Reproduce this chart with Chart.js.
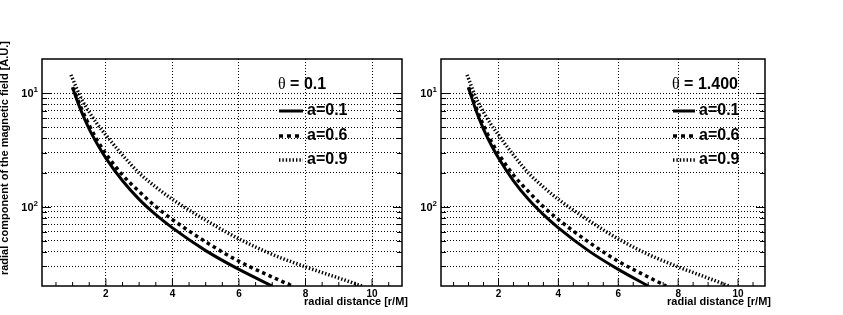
<!DOCTYPE html>
<html>
<head>
<meta charset="utf-8">
<script src="https://cdn.jsdelivr.net/npm/chart.js@4.4.0/dist/chart.umd.min.js"></script>
<style>
  html, body { margin: 0; padding: 0; background: #fff; }
  #wrap { position: relative; width: 843px; height: 315px; }
  canvas { position: absolute; top: 0; }
</style>
</head>
<body>
<div id="wrap">
  <canvas id="panelLeft" width="421" height="315" style="left:0"></canvas>
  <canvas id="panelRight" width="422" height="315" style="left:421px"></canvas>
</div>
<script>
// radial distance [r/M] and field values
const rA01 = [1.0, 1.25, 1.5, 1.75, 2.0, 2.5, 3.0, 3.5, 4.0, 5.0, 6.0, 7.0];
const bA01 = [0.111, 0.0705, 0.0483, 0.0353, 0.0268, 0.0169, 0.0116, 0.0085, 0.0065, 0.0041, 0.0028, 0.002];

const rA06 = [1.0, 1.25, 1.5, 1.75, 2.0, 2.5, 3.0, 3.5, 4.0, 5.0, 6.0, 7.0, 7.6];
const bA06 = [0.113, 0.075, 0.052, 0.038, 0.0292, 0.019, 0.0136, 0.0100, 0.0077, 0.0049, 0.0033, 0.0024, 0.002];

const rA09 = [0.95, 1.25, 1.5, 1.75, 2.0, 2.5, 3.0, 3.5, 4.0, 5.0, 6.0, 7.0, 8.0, 9.0, 9.7];
const bA09 = [0.145, 0.091, 0.068, 0.053, 0.0428, 0.0285, 0.0198, 0.0149, 0.0116, 0.0076, 0.0052, 0.0038, 0.00295, 0.00235, 0.002];

const seriesNames = ['a=0.1', 'a=0.6', 'a=0.9'];
const thetaLabels = ['0.1', '1.400'];

// axes
const xTicks = [2, 4, 6, 8, 10];
const xMinorStep = 0.5;
const yGrid = [0.003, 0.004, 0.005, 0.006, 0.007, 0.008, 0.009,
               0.01, 0.02, 0.03, 0.04, 0.05, 0.06, 0.07, 0.08, 0.09, 0.1];
const yLabelValues = [0.01, 0.1];
const yLabelBase = '10';
const yLabelExps = ['2', '1'];

const xTitle = 'radial distance [r/M]';
const yTitle = 'radial component of the magnetic field [A.U.]';

const toPoints = (xs, ys) => xs.map((x, i) => ({ x: x, y: ys[i] }));

const rootFrame = {
  id: 'rootFrame',
  afterDraw(chart, args, opts) {
    const { ctx, chartArea: a, scales: { x, y } } = chart;
    ctx.save();
    ctx.strokeStyle = '#000';
    ctx.fillStyle = '#000';
    ctx.setLineDash([]);

    // inner tick marks, ROOT style
    ctx.lineWidth = 1;
    ctx.beginPath();
    for (let v = xMinorStep; v < x.max; v += xMinorStep) {
      const px = x.getPixelForValue(v);
      const len = xTicks.includes(v) ? 7 : 4;
      ctx.moveTo(px, a.bottom);
      ctx.lineTo(px, a.bottom - len);
    }
    yGrid.forEach(v => {
      const py = Math.round(y.getPixelForValue(v)) + 0.5;
      const len = yLabelValues.includes(v) ? 9 : 5;
      ctx.moveTo(a.left, py); ctx.lineTo(a.left + len, py);
      ctx.moveTo(a.right, py); ctx.lineTo(a.right - len, py);
    });
    ctx.stroke();

    // frame
    ctx.lineWidth = 1.5;
    ctx.strokeRect(a.left, a.top, a.right - a.left, a.bottom - a.top);

    // y tick labels: 10 with a raised exponent
    ctx.textBaseline = 'middle';
    ctx.textAlign = 'right';
    yLabelValues.forEach((v, i) => {
      const py = y.getPixelForValue(v);
      ctx.font = 'bold 8px "Liberation Sans", Arial, sans-serif';
      ctx.fillText(yLabelExps[i], a.left - 4, py - 3);
      const ew = ctx.measureText(yLabelExps[i]).width;
      ctx.font = 'bold 11px "Liberation Sans", Arial, sans-serif';
      ctx.fillText(yLabelBase, a.left - 4 - ew, py + 1);
    });

    // axis titles
    ctx.font = 'bold 11px "Liberation Sans", Arial, sans-serif';
    ctx.textAlign = 'right';
    ctx.textBaseline = 'middle';
    ctx.fillText(xTitle, a.right + 6, 302);
    if (opts.showYTitle) {
      ctx.save();
      ctx.translate(5, 41);
      ctx.rotate(-Math.PI / 2);
      ctx.textAlign = 'right';
      ctx.fillText(yTitle, 0, 0);
      ctx.restore();
    }

    // legend
    const lx = a.left + opts.legendX;
    ctx.textAlign = 'left';
    ctx.font = '16px "Liberation Serif", serif';
    ctx.fillText('\u03b8', lx - 1, a.top + 26);
    const tw = ctx.measureText('\u03b8').width;
    ctx.font = 'bold 16px "Liberation Sans", Arial, sans-serif';
    ctx.fillText(' = ' + opts.theta, lx - 1 + tw, a.top + 26);

    const rows = [52, 77, 101];
    chart.data.datasets.forEach((ds, i) => {
      const yy = a.top + rows[i];
      ctx.save();
      ctx.lineWidth = ds.borderWidth;
      ctx.setLineDash(opts.sampleDash[i]);
      ctx.beginPath();
      ctx.moveTo(lx, yy);
      ctx.lineTo(lx + opts.sampleLen, yy);
      ctx.stroke();
      ctx.restore();
      ctx.fillText(ds.label, lx + opts.sampleLen + 4, yy);
    });
    ctx.restore();
  }
};

function makePanel(id, theta, yWidth, padRight, legendX, sampleLen, showYTitle) {
  const c = document.getElementById(id).getContext('2d');
  return new Chart(c, {
    type: 'line',
    data: {
      datasets: [
        { label: seriesNames[0], data: toPoints(rA01, bA01), borderColor: '#000',
          borderWidth: 3, borderDash: [] },
        { label: seriesNames[1], data: toPoints(rA06, bA06), borderColor: '#000',
          borderWidth: 3.5, borderDash: [3.5, 3.5] },
        { label: seriesNames[2], data: toPoints(rA09, bA09), borderColor: '#000',
          borderWidth: 3.5, borderDash: [1.4, 2] }
      ]
    },
    options: {
      responsive: false,
      animation: false,
      layout: { padding: { left: 0, right: padRight, top: 59, bottom: 0 } },
      elements: {
        point: { radius: 0 },
        line: { cubicInterpolationMode: 'monotone', fill: false }
      },
      scales: {
        x: {
          type: 'linear',
          min: 0.08,
          max: 10.9,
          afterBuildTicks: s => { s.ticks = xTicks.map(v => ({ value: v })); },
          afterFit: s => { s.height = 29; },
          ticks: {
            color: '#000',
            padding: 2,
            maxRotation: 0,
            font: { family: '"Liberation Sans", Arial, sans-serif', size: 10, weight: 'bold' },
            callback: v => String(v)
          },
          grid: { color: '#000', lineWidth: 1, drawTicks: false },
          border: { display: false, dash: [1, 2] }
        },
        y: {
          type: 'logarithmic',
          min: 0.002,
          max: 0.2,
          afterBuildTicks: s => { s.ticks = yGrid.map(v => ({ value: v })); },
          afterFit: s => { s.width = yWidth; },
          ticks: { display: false },
          grid: { color: '#000', lineWidth: 1, drawTicks: false },
          border: { display: false, dash: [1, 2] }
        }
      },
      plugins: {
        legend: { display: false },
        tooltip: { enabled: false },
        rootFrame: {
          theta: theta, legendX: legendX, sampleLen: sampleLen, showYTitle: showYTitle,
          sampleDash: [[], [4, 4], [1.4, 2]]
        }
      }
    },
    plugins: [rootFrame]
  });
}

makePanel('panelLeft', thetaLabels[0], 42, 19, 237, 24, true);
makePanel('panelRight', thetaLabels[1], 20, 78, 232, 22, false);
</script>
</body>
</html>
